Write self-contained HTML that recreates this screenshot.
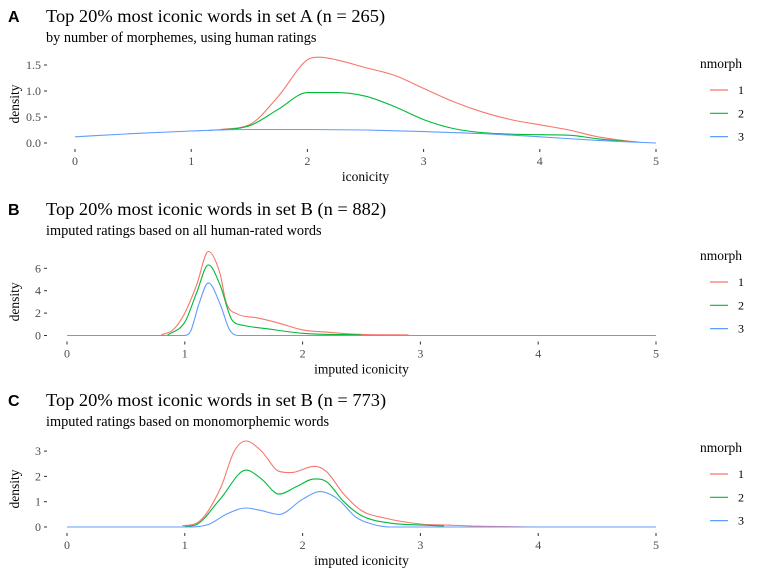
<!DOCTYPE html>
<html><head><meta charset="utf-8"><style>
body{margin:0;background:#fff}
svg{display:block}
text{font-family:"Liberation Serif",serif}
text.letter{font-family:"Liberation Sans",sans-serif;font-weight:bold}
</style></head><body>
<svg id="c" width="768" height="576" viewBox="0 0 768 576"></svg>
<script>
const colors=['#F8766D','#00BA38','#619CFF'];
const legendLabels=['1','2','3'];
const xTicks=[0,1,2,3,4,5];
// Panel A
const aYTicks=[0,0.5,1.0,1.5];
const aYLabels=['0.0','0.5','1.0','1.5'];
const a1x=[1.25,1.5,1.75,2.0,2.1,2.25,2.5,2.75,3.0,3.25,3.5,3.75,4.0,4.25,4.5,4.75,4.85];
const a1y=[0.26,0.35,0.9,1.6,1.65,1.6,1.45,1.3,1.05,0.8,0.6,0.45,0.35,0.25,0.12,0.04,0.02];
const a2x=[1.15,1.5,1.75,2.0,2.25,2.5,2.75,3.0,3.25,3.5,3.75,4.0,4.25,4.5,4.8];
const a2y=[0.24,0.33,0.65,0.97,0.97,0.9,0.7,0.45,0.28,0.2,0.17,0.16,0.15,0.08,0.02];
const a3x=[0,0.5,1,1.5,2,2.5,3,3.5,4,4.5,5];
const a3y=[0.12,0.18,0.23,0.26,0.26,0.25,0.22,0.18,0.12,0.05,0.0];
// Panel B
const bYTicks=[0,2,4,6];
const b1x=[0.8,0.9,1.0,1.1,1.2,1.3,1.35,1.45,1.6,1.8,2.0,2.2,2.5,2.9];
const b1y=[0.05,0.5,2.0,4.5,7.5,5.5,3.0,1.9,1.6,1.1,0.5,0.3,0.1,0.05];
const b2x=[0.85,1.0,1.1,1.2,1.3,1.4,1.5,1.7,2.0,2.5];
const b2y=[0,1.2,3.8,6.3,4.5,1.4,0.9,0.6,0.2,0.05];
const b3x=[0,1.0,1.05,1.12,1.2,1.3,1.38,1.45,5];
const b3y=[0,0,0.4,2.8,4.7,2.8,0.5,0,0];
// Panel C
const cYTicks=[0,1,2,3];
const c1x=[0.98,1.1,1.3,1.42,1.52,1.65,1.8,1.9,2.1,2.2,2.35,2.5,2.7,3.0,3.25,3.5,4.0];
const c1y=[0.05,0.15,1.5,3.0,3.4,3.0,2.2,2.15,2.4,2.2,1.3,0.65,0.35,0.12,0.07,0.03,0];
const c2x=[1.0,1.1,1.3,1.52,1.65,1.8,1.95,2.1,2.2,2.35,2.5,2.75,3.0,3.2];
const c2y=[0.02,0.1,1.1,2.25,1.9,1.3,1.6,1.9,1.8,1.0,0.45,0.15,0.08,0.04];
const c3x=[0,1,1.2,1.35,1.52,1.65,1.8,2.0,2.15,2.3,2.45,2.6,2.75,5];
const c3y=[0,0,0.1,0.5,0.75,0.65,0.5,1.1,1.4,1.1,0.4,0.1,0,0];

const svg=document.getElementById('c');
const NS='http://www.w3.org/2000/svg';
function mk(tag,attrs,txt){const e=document.createElementNS(NS,tag);for(const k in attrs)e.setAttribute(k,attrs[k]);if(txt!==undefined)e.textContent=txt;svg.appendChild(e);return e;}
function mono(pts){
  const n=pts.length,d=[],m=[];
  for(let i=0;i<n-1;i++)d.push((pts[i+1][1]-pts[i][1])/(pts[i+1][0]-pts[i][0]));
  for(let i=0;i<n;i++){
    if(i===0)m.push(d[0]);else if(i===n-1)m.push(d[n-2]);
    else m.push(d[i-1]*d[i]<=0?0:(d[i-1]+d[i])/2);
  }
  for(let i=0;i<n-1;i++){if(d[i]===0){m[i]=0;m[i+1]=0;}else{const a=m[i]/d[i],b=m[i+1]/d[i],s=a*a+b*b;if(s>9){const t=3/Math.sqrt(s);m[i]=t*a*d[i];m[i+1]=t*b*d[i];}}}
  let s='M'+pts[0][0]+','+pts[0][1];
  for(let i=0;i<n-1;i++){const h=(pts[i+1][0]-pts[i][0])/3;
    s+=' C'+(pts[i][0]+h)+','+(pts[i][1]+m[i]*h)+' '+(pts[i+1][0]-h)+','+(pts[i+1][1]-m[i+1]*h)+' '+pts[i+1][0]+','+pts[i+1][1];}
  return s;
}

function panel(p){
  const sx=v=>p.x0+v*p.xu, sy=v=>p.y0-v*p.yu;
  let t=mk('text',{x:8,y:p.ty,'font-size':16,'class':'letter'},p.letter);
  
  
  t=mk('text',{x:46,y:p.ty,'font-size':18.4},p.title);
  
  
  t=mk('text',{x:46,y:p.ty+20,'font-size':14.3},p.sub);
  
  
  p.yt.forEach((v,i)=>{
    const y=sy(v);
    const l=mk('line',{x1:44,x2:47,y1:y,y2:y,stroke:'#333','stroke-width':1});
    
    
    const tt=mk('text',{x:41,y:y+4,'font-size':12,fill:'#4d4d4d','text-anchor':'end'},p.yl?p.yl[i]:String(v));
    
    
  });
  xTicks.forEach(v=>{
    const x=sx(v);
    const l=mk('line',{x1:x,x2:x,y1:p.y0+6,y2:p.y0+9,stroke:'#333','stroke-width':1});
    
    
    const tt=mk('text',{x:x,y:p.y0+22,'font-size':12,fill:'#4d4d4d','text-anchor':'middle'},String(v));
    
    
  });
  t=mk('text',{x:(p.x0+p.x0+5*p.xu)/2,y:p.y0+38,'font-size':13.5,'text-anchor':'middle'},p.xlab);
  
  
  const my=p.y0-p.yt[p.yt.length-1]*p.yu/2;
  t=mk('text',{x:0,y:0,'font-size':13.5,'text-anchor':'middle',transform:`translate(19,${my}) rotate(-90)`},'density');
  
  
  p.series.forEach((s,i)=>{
    const pts=s[0].map((xv,j)=>[+sx(xv).toFixed(1),+sy(s[1][j]).toFixed(1)]);
    const path=mk('path',{d:mono(pts),fill:'none',stroke:colors[i],'stroke-width':1.1});
    
    
  });
  t=mk('text',{x:700,y:p.ly,'font-size':13.5},'nmorph');
  
  
  legendLabels.forEach((lab,i)=>{
    const y=p.ly+22+i*23.3;
    const l=mk('line',{x1:710,x2:728,y1:y,y2:y,stroke:colors[i],'stroke-width':1.2});
    
    
    const tt=mk('text',{x:738,y:y+4,'font-size':12},lab);
    
    
  });
}
panel({letter:'A',title:'Top 20% most iconic words in set A (n = 265)',sub:'by number of morphemes, using human ratings',ty:22,x0:75,xu:116.2,y0:143,yu:52,yt:aYTicks,yl:aYLabels,xlab:'iconicity',ly:68,series:[[a1x,a1y],[a2x,a2y],[a3x,a3y]]});
panel({letter:'B',title:'Top 20% most iconic words in set B (n = 882)',sub:'imputed ratings based on all human-rated words',ty:215,x0:67,xu:117.8,y0:335.5,yu:11.2,yt:bYTicks,xlab:'imputed iconicity',ly:260,series:[[b1x,b1y],[b2x,b2y],[b3x,b3y]]});
panel({letter:'C',title:'Top 20% most iconic words in set B (n = 773)',sub:'imputed ratings based on monomorphemic words',ty:406,x0:67,xu:117.8,y0:527,yu:25.3,yt:cYTicks,xlab:'imputed iconicity',ly:452,series:[[c1x,c1y],[c2x,c2y],[c3x,c3y]]});
</script>
</body></html>
